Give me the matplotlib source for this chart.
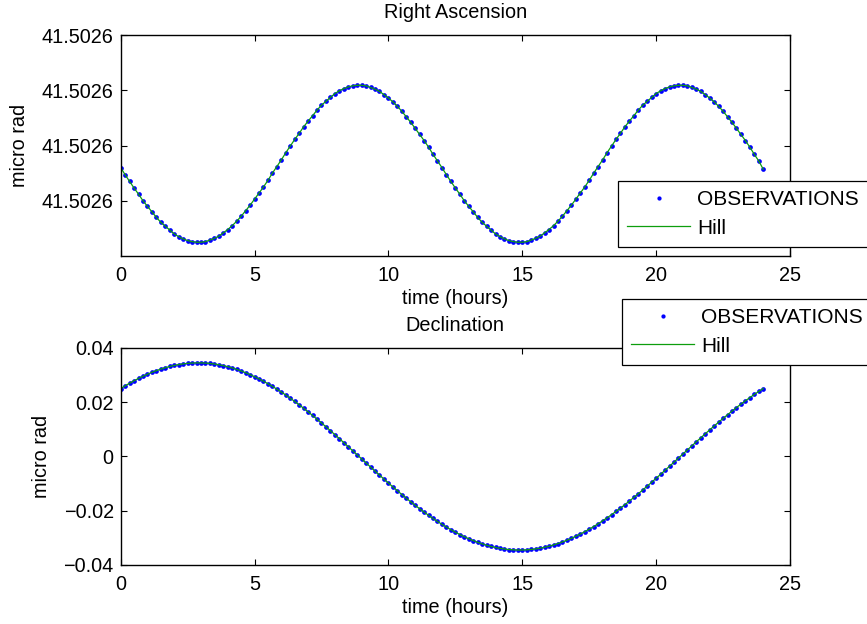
import numpy as np
import matplotlib
matplotlib.use("Agg")
from matplotlib import pyplot as plt
from matplotlib.ticker import FuncFormatter, FormatStrFormatter

plt.rcParams['font.family'] = ['Liberation Sans', 'DejaVu Sans']
plt.rcParams['font.size'] = 14

# samples every 10 minutes over one day
tempo = np.linspace(0, 24, 145)

# right ascension: base value + offset (offset in units of 1e-5 micro rad)
ra_base = 41.50259
ra_offset = [
    1.60, 1.47, 1.35, 1.23, 1.12, 1.00, 0.90, 0.80, 0.70, 0.61, 0.54, 0.47,
    0.40, 0.35, 0.31, 0.28, 0.26, 0.25, 0.25, 0.26, 0.29, 0.32, 0.36, 0.42,
    0.48, 0.55, 0.63, 0.72, 0.82, 0.92, 1.03, 1.14, 1.25, 1.37, 1.50, 1.62,
    1.74, 1.87, 1.99, 2.11, 2.22, 2.34, 2.44, 2.54, 2.64, 2.73, 2.80, 2.87,
    2.94, 2.99, 3.03, 3.06, 3.08, 3.09, 3.09, 3.08, 3.05, 3.02, 2.98, 2.92,
    2.86, 2.79, 2.71, 2.62, 2.52, 2.42, 2.31, 2.20, 2.09, 1.97, 1.84, 1.72,
    1.60, 1.47, 1.35, 1.23, 1.12, 1.00, 0.90, 0.80, 0.70, 0.61, 0.54, 0.47,
    0.40, 0.35, 0.31, 0.28, 0.26, 0.25, 0.25, 0.26, 0.29, 0.32, 0.36, 0.42,
    0.48, 0.55, 0.63, 0.72, 0.82, 0.92, 1.03, 1.14, 1.25, 1.37, 1.50, 1.62,
    1.74, 1.87, 1.99, 2.11, 2.22, 2.34, 2.44, 2.54, 2.64, 2.73, 2.80, 2.87,
    2.94, 2.99, 3.03, 3.06, 3.08, 3.09, 3.09, 3.08, 3.05, 3.02, 2.98, 2.92,
    2.86, 2.79, 2.71, 2.62, 2.52, 2.42, 2.31, 2.20, 2.09, 1.97, 1.84, 1.72,
    1.57,
]

# declination (micro rad)
dec = [
    0.02503, 0.02604, 0.02700, 0.02791, 0.02877, 0.02957, 0.03032, 0.03101,
    0.03164, 0.03221, 0.03272, 0.03316, 0.03355, 0.03387, 0.03412, 0.03431,
    0.03443, 0.03449, 0.03449, 0.03442, 0.03428, 0.03408, 0.03381, 0.03348,
    0.03308, 0.03262, 0.03210, 0.03152, 0.03087, 0.03017, 0.02941, 0.02860,
    0.02773, 0.02681, 0.02584, 0.02482, 0.02375, 0.02264, 0.02148, 0.02028,
    0.01904, 0.01777, 0.01646, 0.01512, 0.01375, 0.01236, 0.01095, 0.00951,
    0.00805, 0.00658, 0.00510, 0.00361, 0.00210, 0.00060, -0.00090, -0.00241,
    -0.00391, -0.00540, -0.00688, -0.00835, -0.00980, -0.01123, -0.01264, -0.01403,
    -0.01539, -0.01673, -0.01803, -0.01929, -0.02052, -0.02171, -0.02286, -0.02397,
    -0.02503, -0.02604, -0.02700, -0.02791, -0.02877, -0.02957, -0.03032, -0.03101,
    -0.03164, -0.03221, -0.03272, -0.03316, -0.03355, -0.03387, -0.03412, -0.03431,
    -0.03443, -0.03449, -0.03449, -0.03442, -0.03428, -0.03408, -0.03381, -0.03348,
    -0.03308, -0.03262, -0.03210, -0.03152, -0.03087, -0.03017, -0.02941, -0.02860,
    -0.02773, -0.02681, -0.02584, -0.02482, -0.02375, -0.02264, -0.02148, -0.02028,
    -0.01904, -0.01777, -0.01646, -0.01512, -0.01375, -0.01236, -0.01095, -0.00951,
    -0.00805, -0.00658, -0.00510, -0.00361, -0.00210, -0.00060, 0.00090, 0.00241,
    0.00391, 0.00540, 0.00688, 0.00835, 0.00980, 0.01123, 0.01264, 0.01403,
    0.01539, 0.01673, 0.01803, 0.01929, 0.02052, 0.02171, 0.02286, 0.02397,
    0.02503,
]

ra = ra_base + np.array(ra_offset) * 1e-5
ra_ticks = [41.50260, 41.50261, 41.50262, 41.50263]
dec_ticks = [-0.04, -0.02, 0, 0.02, 0.04]
x_ticks = [0, 5, 10, 15, 20, 25]

azul = (0, 0, 1)
verde = (0.05, 0.62, 0.05)

fig = plt.figure(figsize=(8.67, 6.24), dpi=100)
ax1 = fig.add_axes([0.1392, 0.5897, 0.772, 0.3542])
ax2 = fig.add_axes([0.1392, 0.0946, 0.772, 0.3478])


def estilo(ax):
    ax.tick_params(direction='in', length=4.5, width=0.8, top=True, right=True,
                   labelsize=14.3, pad=5)
    ax.tick_params(axis='x', pad=7)
    for s in ax.spines.values():
        s.set_linewidth(1.0)
    ax.set_xlim(0, 25)
    ax.set_xticks(x_ticks)
    ax.set_xlabel('time (hours)', fontsize=14.3, labelpad=3)
    ax.set_ylabel('micro rad', fontsize=14.3, labelpad=9)


# Right Ascension
ax1.plot(tempo, ra, 'o', color=azul, markersize=3.4, markeredgewidth=0,
         label='OBSERVATIONS')
ax1.plot(tempo, ra, '-', color=verde, linewidth=0.9, label='Hill')
ax1.set_ylim(41.50259, 41.50263)
ax1.set_yticks(ra_ticks)
ax1.yaxis.set_major_formatter(FormatStrFormatter('%.4f'))
ax1.set_title('Right Ascension', fontsize=14.3, pad=12)
estilo(ax1)

# Declination
ax2.plot(tempo, dec, 'o', color=azul, markersize=3.4, markeredgewidth=0,
         label='OBSERVATIONS')
ax2.plot(tempo, dec, '-', color=verde, linewidth=0.9, label='Hill')
ax2.set_ylim(-0.04, 0.04)
ax2.set_yticks(dec_ticks)
ax2.yaxis.set_major_formatter(FuncFormatter(
    lambda v, _: '0' if abs(v) < 1e-12 else f'{v:.2f}'.replace('-', '\u2212')))
ax2.set_title('Declination', fontsize=14.3, pad=12)
estilo(ax2)

# legends sit partly outside the figure, as exported
for ax, pos in [(ax1, (0.7128, 0.7099)), (ax2, (0.7174, 0.5208))]:
    leg = ax.legend(loc='upper left', bbox_to_anchor=pos,
                    bbox_transform=fig.transFigure, borderaxespad=0,
                    numpoints=1, fancybox=False, framealpha=1, fontsize=15,
                    markerscale=0.9, handlelength=3.0, handletextpad=0.35,
                    borderpad=0.45, labelspacing=0.45)
    leg.get_frame().set_edgecolor('black')
    leg.get_frame().set_linewidth(0.9)

fig.savefig('out.png', dpi=100)
